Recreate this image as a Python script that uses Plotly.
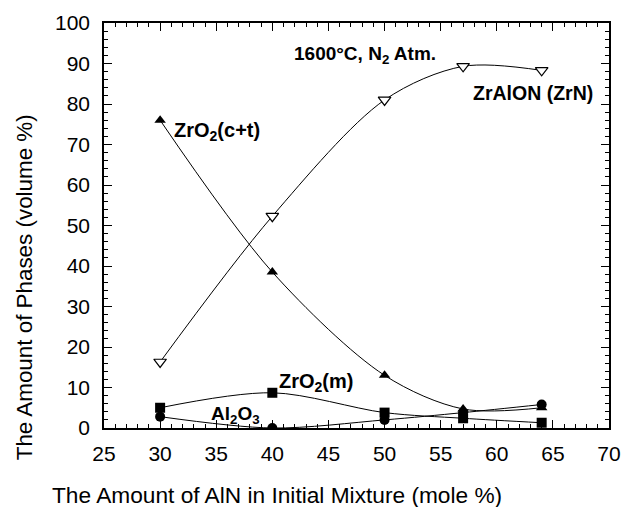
import plotly.graph_objects as go

x_aln = [30, 40, 50, 57, 64]
zralon = [16.3, 52.3, 81.0, 89.3, 88.3]
zro2_ct = [76.0, 38.5, 13.0, 4.7, 5.0]
zro2_m = [5.0, 8.7, 3.8, 2.4, 1.3]
al2o3 = [2.8, 0.0, 2.0, 3.8, 5.8]

x_title = "The Amount of AlN in Initial Mixture (mole %)"
y_title = "The Amount of Phases (volume %)"

FONT = "Liberation Sans, Arial"
fig = go.Figure()
line = dict(color="black", width=1, shape="spline", smoothing=0.9)

fig.add_trace(go.Scatter(x=x_aln, y=zralon, mode="lines+markers", line=line,
                         marker=dict(symbol="triangle-down", size=11, color="white",
                                     line=dict(color="black", width=1.2))))
fig.add_trace(go.Scatter(x=x_aln, y=zro2_ct, mode="lines+markers", line=line,
                         marker=dict(symbol="triangle-up", size=10, color="black")))
fig.add_trace(go.Scatter(x=x_aln, y=zro2_m, mode="lines+markers", line=line,
                         marker=dict(symbol="square", size=10, color="black")))
fig.add_trace(go.Scatter(x=x_aln, y=al2o3, mode="lines+markers", line=line,
                         marker=dict(symbol="circle", size=10, color="black")))

anns = [
    (48.3, 92.0, "<b>1600°C, N<sub>2</sub> Atm.</b>", 19),
    (63.2, 82.7, "<b>ZrAlON (ZrN)</b>", 19.5),
    (35.1, 73.3, "<b>ZrO<sub>2</sub>(c+t)</b>", 20),
    (43.9, 11.2, "<b>ZrO<sub>2</sub>(m)</b>", 20),
    (36.7, 3.3, "<b>Al<sub>2</sub>O<sub>3</sub></b>", 19),
]
for ax, ay, t, s in anns:
    fig.add_annotation(x=ax, y=ay, text=t, showarrow=False,
                       font=dict(family=FONT, size=s, color="black"))

# axis titles (offset from plot centre as in the original)
fig.add_annotation(xref="paper", yref="paper", x=0.343, y=-0.165, text=x_title,
                   showarrow=False, xanchor="center", yanchor="middle",
                   font=dict(family=FONT, size=22.7, color="black"))
fig.add_annotation(xref="paper", yref="paper", x=-0.158, y=0.348, text=y_title,
                   showarrow=False, xanchor="center", yanchor="middle", textangle=-90,
                   font=dict(family=FONT, size=22.4, color="black"))

axis_common = dict(showline=True, linecolor="black", linewidth=1.5, mirror="allticks",
                   ticks="inside", ticklen=8, tickwidth=1.2, tickcolor="black",
                   showgrid=False, zeroline=False, automargin=False,
                   tickfont=dict(family=FONT, size=21, color="black"))

fig.update_xaxes(range=[25, 70], dtick=5, tick0=25, ticklabelstandoff=6,
                 minor=dict(dtick=1, ticks="inside", ticklen=4, tickcolor="black", tickwidth=1),
                 **axis_common)
fig.update_yaxes(range=[0, 100], dtick=10, ticklabelstandoff=8,
                 minor=dict(dtick=2, ticks="inside", ticklen=4, tickcolor="black", tickwidth=1),
                 **axis_common)

fig.update_layout(width=624, height=507, margin=dict(l=104, r=15, t=23, b=79),
                  showlegend=False, plot_bgcolor="white", paper_bgcolor="white")

fig.write_html("out.html")
